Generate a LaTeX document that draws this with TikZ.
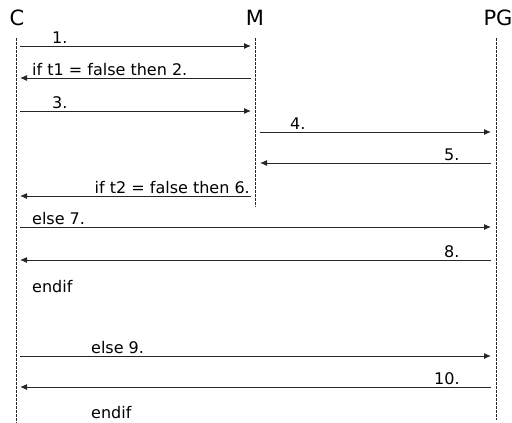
\documentclass[tikz,border=0pt]{standalone}
\usepackage{fontspec}
\setmainfont{DejaVu Sans}
\usetikzlibrary{arrows.meta}

\begin{document}
\begin{tikzpicture}[x=1pt, y=-1pt,
    actor/.style={anchor=base, inner sep=0pt, font=\fontsize{21}{24}\selectfont},
    lifeline/.style={draw=black!85, line width=1pt, dash pattern=on 2.5pt off 1.5pt},
    msg/.style={-{Latex[length=7pt,width=6pt]}, draw=black!85, line width=1pt},
    lbl/.style={anchor=base west, inner sep=0pt, font=\fontsize{16}{18}\selectfont},
    lblr/.style={lbl, anchor=base east}
  ]
    \useasboundingbox (0,0) rectangle (512,423);
    % participants
    \node[actor] (C) at (17,25) {C};
    \node[actor] (M) at (255,25) {M};
    \node[actor] (PG) at (498,25) {PG};
    \coordinate (Ctop) at (16,38);  \coordinate (Cbot) at (16,423);
    \coordinate (Mtop) at (255,38); \coordinate (Mbot) at (255,207);
    \coordinate (Ptop) at (496,38); \coordinate (Pbot) at (496,420);
    \draw[lifeline] (Ctop) -- (Cbot);
    \draw[lifeline] (Mtop) -- (Mbot);
    \draw[lifeline] (Ptop) -- (Pbot);
    % message lanes
    \coordinate (cx) at (20,0);
    \coordinate (mxl) at (251,0);
    \coordinate (mxr) at (260,0);
    \coordinate (px) at (491,0);
    \coordinate (r1) at (0,46);   \coordinate (r2) at (0,78);
    \coordinate (r3) at (0,111);  \coordinate (r4) at (0,132);
    \coordinate (r5) at (0,163);  \coordinate (r6) at (0,196);
    \coordinate (r7) at (0,227);  \coordinate (r8) at (0,260);
    \coordinate (r9) at (0,356);  \coordinate (r10) at (0,387);
    % messages
    \draw[msg] (cx |- r1) -- (mxl |- r1);
    \draw[msg] (mxl |- r2) -- (cx |- r2);
    \draw[msg] (cx |- r3) -- (mxl |- r3);
    \draw[msg] (mxr |- r4) -- (px |- r4);
    \draw[msg] (px |- r5) -- (mxr |- r5);
    \draw[msg] (mxl |- r6) -- (cx |- r6);
    \draw[msg] (cx |- r7) -- (px |- r7);
    \draw[msg] (px |- r8) -- (cx |- r8);
    \draw[msg] (cx |- r9) -- (px |- r9);
    \draw[msg] (px |- r10) -- (cx |- r10);
    % labels
    \node[lbl] (t1) at (52,43) {1.};
    \node[lbl] (t2) at (32,75) {if t1 = false then 2.};
    \node[lbl] (t3) at (52,108) {3.};
    \node[lbl] (t4) at (290,129) {4.};
    \node[lbl] (t5) at (444,160) {5.};
    \node[lblr] (t6) at (250,193) {if t2 = false then 6.};
    \node[lbl] (t7) at (32,224) {else 7.};
    \node[lbl] (t8) at (444,257) {8.};
    \node[lbl] (e1) at (32,292) {endif};
    \node[lbl] (t9) at (91,353) {else 9.};
    \node[lbl] (t10) at (434,384) {10.};
    \node[lbl] (e2) at (91,418) {endif};
\end{tikzpicture}
\end{document}
